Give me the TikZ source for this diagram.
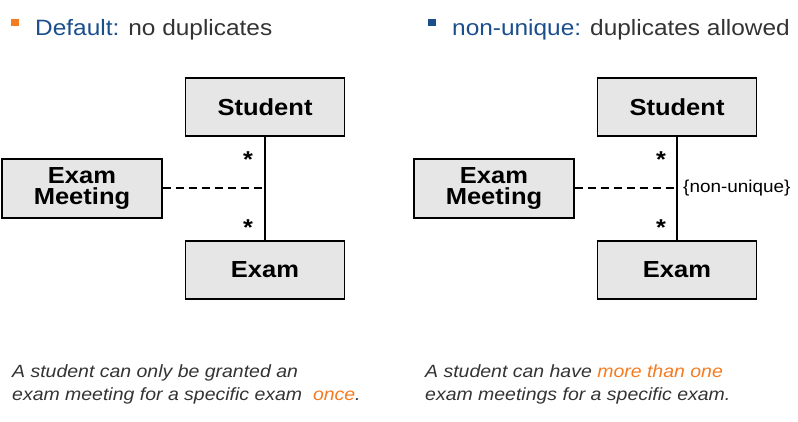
\documentclass[tikz,border=0pt]{standalone}
\usepackage{fontspec}
\setmainfont{Liberation Sans}[FakeStretch=1.1]
\definecolor{hblue}{HTML}{1B4F8C}
\definecolor{horange}{HTML}{F47B20}
\definecolor{txt}{HTML}{333333}
\definecolor{boxfill}{HTML}{E6E6E6}
\tikzset{
  cls/.style={draw=black, fill=boxfill, line width=1.4pt, minimum width=159pt, minimum height=58pt, inner sep=0pt, align=center, font=\fontsize{23.2}{21.5}\selectfont\bfseries},
  assoc/.style={line width=1.2pt, black},
  assocdash/.style={line width=1.2pt, black, dash pattern=on 8pt off 5pt},
  mult/.style={font=\fontsize{23}{23}\selectfont\bfseries, inner sep=0pt},
  head/.style={anchor=base west, inner sep=0pt, font=\fontsize{22.2}{26}\selectfont, text=txt},
  note/.style={anchor=base west, inner sep=0pt, font=\fontsize{17.7}{23}\selectfont\itshape, text=txt},
  constr/.style={anchor=west, inner sep=0pt, font=\fontsize{17.2}{20}\selectfont, text=black}
}
\begin{document}
\begin{tikzpicture}[x=1pt,y=-1pt]
\useasboundingbox (0,0) rectangle (798,421);
% headers
\fill[horange] (11,19) rectangle (19,26);
\node[head] (h1) at (35,35) {\textcolor{hblue}{Default:} no duplicates};
\fill[hblue] (428,19) rectangle (436,26);
\node[head] (h2) at (452,35) {\textcolor{hblue}{non-unique:} duplicates allowed};
% left diagram
\node[cls] (s1) at (265,107) {Student};
\node[cls, minimum width=160pt, minimum height=59pt] (m1) at (82,188.5) {Exam\\Meeting};
\node[cls] (e1) at (265,270) {Exam};
\draw[assoc] (s1.south) -- (e1.north);
\coordinate (c1) at (265,188);
\draw[assocdash] (m1.east |- c1) -- (c1);
\node[mult] (st1) at (248,160) {*};
\node[mult] (st2) at (248,228) {*};
% right diagram
\node[cls] (s2) at (677,107) {Student};
\node[cls, minimum width=160pt, minimum height=59pt] (m2) at (494,188.5) {Exam\\Meeting};
\node[cls] (e2) at (677,270) {Exam};
\draw[assoc] (s2.south) -- (e2.north);
\coordinate (c2) at (677,188);
\draw[assocdash] (m2.east |- c2) -- (c2);
\node[mult] (st3) at (661,160) {*};
\node[mult] (st4) at (661,228) {*};
\node[constr] (nu) at (683,188) {\{non-unique\}};
% notes
\node[note] (n1) at (12,377) {A student can only be granted an};
\node[note] (n2) at (12,400) {exam meeting for a specific exam\ \ \textcolor{horange}{once}.};
\node[note] (n3) at (425,377) {A student can have \textcolor{horange}{more than one}};
\node[note] (n4) at (425,400) {exam meetings for a specific exam.};
\end{tikzpicture}
\end{document}
